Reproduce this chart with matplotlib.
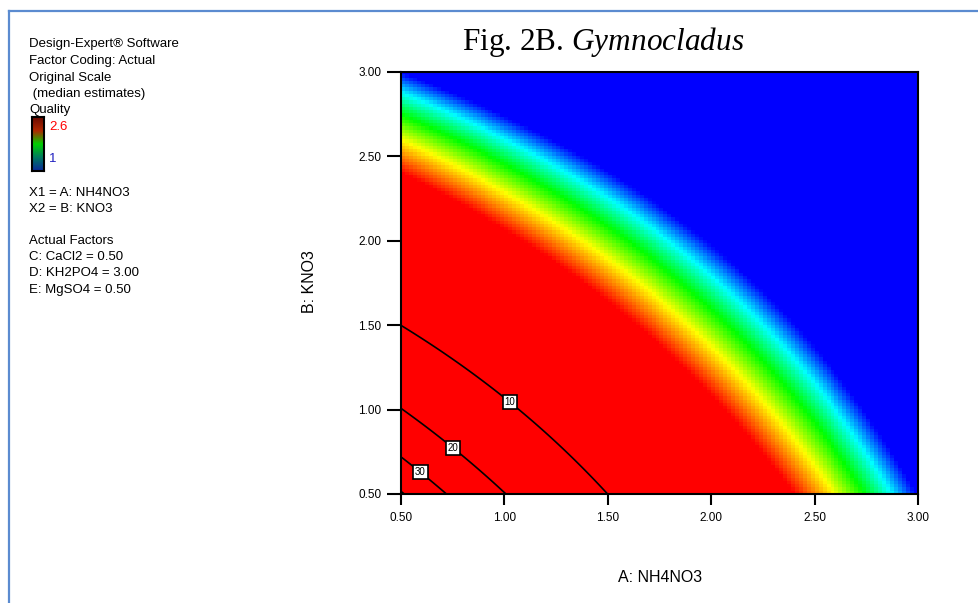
import numpy as np
import matplotlib
matplotlib.use('Agg')
import matplotlib.pyplot as plt
from matplotlib.colors import LinearSegmentedColormap
from matplotlib.lines import Line2D

plt.rcParams['font.family'] = ['Liberation Sans', 'DejaVu Sans']
plt.rcParams['mathtext.fontset'] = 'custom'
plt.rcParams['mathtext.rm'] = 'Liberation Serif'
plt.rcParams['mathtext.it'] = 'Liberation Serif:italic'

# factor ranges (A: NH4NO3, B: KNO3)
a_range = [0.50, 3.00]
b_range = [0.50, 3.00]
tick_values = [0.50, 1.00, 1.50, 2.00, 2.50, 3.00]
tick_labels = ['0.50', '1.00', '1.50', '2.00', '2.50', '3.00']

# Quality model read off the colour field, in (A-0.5, B-0.5):
# const, (A+B), (A^2+B^2), A*B
quality_coef = [7.94, -2.92, 0.057, 0.677]
quality_min = 1.0
quality_max = 2.6

# second response drawn as labelled contours: c0 * exp(-c1 * (u + v + c2*u*v))
contour_coef = [40.9, 1.41, -0.25]
contour_levels = [10, 20, 30, 40]
label_points = [(1.03, 1.05), (0.765, 0.795), (0.61, 0.655)]

legend_lines = ['Design-Expert® Software', 'Factor Coding: Actual', 'Original Scale',
                ' (median estimates)', 'Quality']
factor_lines = ['X1 = A: NH4NO3', 'X2 = B: KNO3']
actual_lines = ['Actual Factors', 'C: CaCl2 = 0.50', 'D: KH2PO4 = 3.00', 'E: MgSO4 = 0.50']


def quality(a, b):
    u = a - a_range[0]
    v = b - b_range[0]
    c = quality_coef
    return c[0] + c[1] * (u + v) + c[2] * (u ** 2 + v ** 2) + c[3] * u * v


def response2(a, b):
    u = a - a_range[0]
    v = b - b_range[0]
    c = contour_coef
    return c[0] * np.exp(-c[1] * (u + v + c[2] * u * v))


W, H = 979, 603
fig = plt.figure(figsize=(W / 100, H / 100), dpi=100)

# blue page frame
frame_col = '#5b8bd0'
fig.add_artist(Line2D([9 / W, 1], [1 - 11 / H, 1 - 11 / H], color=frame_col, lw=1.6))
fig.add_artist(Line2D([9 / W, 9 / W], [0, 1 - 11 / H], color=frame_col, lw=1.6))

ax = fig.add_axes([401 / W, (H - 494) / H, 517 / W, 422 / H])

cmap = LinearSegmentedColormap.from_list('dx', [(0.0, '#0000ff'), (0.2, '#00ffff'),
                                                (0.42, '#00ff00'), (0.67, '#ffff00'),
                                                (1.0, '#ff0000')])
n = 130
ga = np.linspace(a_range[0], a_range[1], n)
gb = np.linspace(b_range[0], b_range[1], n)
A, B = np.meshgrid(ga, gb)
Q = np.clip(quality(A, B), quality_min, quality_max)
ax.imshow(Q, origin='lower', extent=[a_range[0], a_range[1], b_range[0], b_range[1]],
          cmap=cmap, vmin=quality_min, vmax=quality_max, aspect='auto', interpolation='nearest')

gc = np.linspace(a_range[0], a_range[1], 400)
A2, B2 = np.meshgrid(gc, gc)
C = response2(A2, B2)
cs = ax.contour(A2, B2, C, levels=contour_levels, colors='black', linewidths=1.2)
labels = ax.clabel(cs, levels=contour_levels[:3], inline=False, fontsize=7, fmt='%d',
                   manual=label_points)
for t in labels:
    t.set_rotation(0)
    t.set_bbox(dict(boxstyle='square,pad=0.2', facecolor='white', edgecolor='black', linewidth=1.2))

ax.set_xlim(a_range)
ax.set_ylim(b_range)
ax.set_xticks(tick_values)
ax.set_xticklabels(tick_labels)
ax.set_yticks(tick_values)
ax.set_yticklabels(tick_labels)
ax.tick_params(axis='y', length=10, width=1.5, pad=4, labelsize=8.5)
ax.tick_params(axis='x', length=8, width=1.5, pad=5, labelsize=8.5)
for s in ax.spines.values():
    s.set_linewidth(1.5)

fig.text(462 / W, 1 - 50 / H, r'Fig. 2B. $\it{Gymnocladus}$', family='Liberation Serif',
         fontsize=22.5, ha='left', va='baseline')
fig.text(310 / W, 1 - 282 / H, 'B: KNO3', rotation=90, fontsize=11.5, ha='center', va='center')
fig.text(660 / W, 1 - 578 / H, 'A: NH4NO3', fontsize=11.5, ha='center', va='center')

# left legend block
for txt, y in zip(legend_lines, [44, 61, 78, 94, 110]):
    fig.text(29 / W, 1 - y / H, txt, fontsize=9.5, va='center')
for txt, y in zip(factor_lines, [193, 209]):
    fig.text(29 / W, 1 - y / H, txt, fontsize=9.5, va='center')
for txt, y in zip(actual_lines, [241, 257, 273, 290]):
    fig.text(29 / W, 1 - y / H, txt, fontsize=9.5, va='center')

cax = fig.add_axes([32 / W, (H - 171) / H, 12 / W, 54 / H])
bar_cmap = LinearSegmentedColormap.from_list('bar', ['#0a2a9a', '#007a60', '#00d000', '#b02800', '#6a0a00'])
cax.imshow(np.linspace(0, 1, 100)[:, None], origin='lower', cmap=bar_cmap, aspect='auto')
cax.set_xticks([])
cax.set_yticks([])
for s in cax.spines.values():
    s.set_linewidth(1.5)
fig.text(49 / W, 1 - 127 / H, '2.6', color='red', fontsize=9.5, va='center')
fig.text(49 / W, 1 - 159 / H, '1', color='#2020c0', fontsize=9.5, va='center')

fig.savefig('out.png', dpi=100)
